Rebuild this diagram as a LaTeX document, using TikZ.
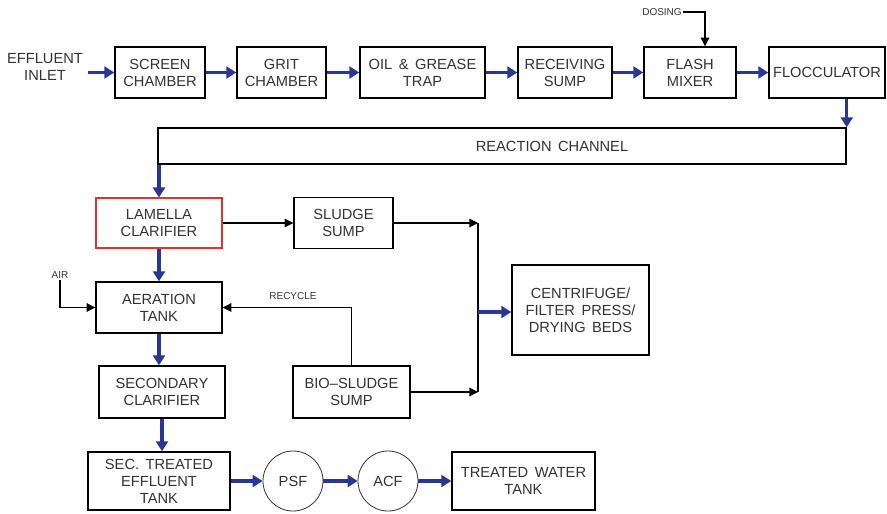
\documentclass[tikz,border=0pt]{standalone}
\usepackage{fontspec}
\setmainfont{Liberation Sans}
\usetikzlibrary{arrows.meta}
\definecolor{flowblue}{RGB}{42,54,148}
\definecolor{inkgray}{RGB}{50,50,50}
\definecolor{lamellared}{RGB}{232,48,48}

\begin{document}
\begin{tikzpicture}[x=0.75pt,y=-0.75pt]
	\tikzstyle{block}=[draw,rectangle,line width=1.1pt,align=center,text=inkgray,font=\fontsize{11}{12.8}\selectfont,minimum height=38.25pt,inner sep=1pt]
	\tikzstyle{filter}=[draw=inkgray,circle,line width=0.6pt,text=inkgray,font=\fontsize{11}{12.8}\selectfont,minimum size=45pt,inner sep=0pt]
	\tikzstyle{tag}=[text=inkgray,font=\fontsize{7.5}{8}\selectfont,inner sep=1pt]
	\tikzstyle{flow}=[draw=flowblue,line width=2.4pt,-{Triangle[length=7.5pt,width=9pt]}]
	\tikzstyle{feed}=[draw,line width=0.8pt,-{Triangle[length=6.5pt,width=6.5pt]}]

	\useasboundingbox (0,0) rectangle (887,513);

	% top row
	\node[text=inkgray,align=center,font=\fontsize{11}{12.8}\selectfont] (inlet) at (45,67) {EFFLUENT\\INLET};
	\node[block,minimum width=67.5pt] (screen) at (160,72.5) {SCREEN\\CHAMBER};
	\node[block,minimum width=66.75pt] (grit) at (281.5,72.5) {GRIT\\CHAMBER};
	\node[block,minimum width=93.75pt] (oil) at (422.5,72.5) {OIL \,\& \,GREASE\\TRAP};
	\node[block,minimum width=70.5pt] (recv) at (565,72.5) {RECEIVING\\SUMP};
	\node[block,minimum width=69pt] (flash) at (690,72.5) {FLASH\\MIXER};
	\node[block,minimum width=87pt] (flocc) at (827,72.5) {FLOCCULATOR};
	\node[tag] (dosing) at (662,12) {DOSING};

	\draw[flow] (inlet.east |- screen) -- (screen.west);
	\draw[flow] (screen) -- (grit);
	\draw[flow] (grit) -- (oil);
	\draw[flow] (oil) -- (recv);
	\draw[flow] (recv) -- (flash);
	\draw[flow] (flash) -- (flocc);
	\draw[feed] (dosing.east) -| ([xshift=11.25pt]flash.north);

	% channel
	\node[draw,rectangle,line width=1.1pt,minimum width=516pt,minimum height=27pt,
		label={[text=inkgray,font=\fontsize{11}{12.8}\selectfont,xshift=37.5pt]center:REACTION \,CHANNEL}] (chan) at (502,146) {};
	\draw[flow] (flocc.south -| chan.east) -- (chan.north east);

	% clarifiers and sludge
	\node[block,draw=lamellared,line width=0.8pt,minimum width=94.5pt,minimum height=37.5pt] (lamella) at (159,223) {LAMELLA\\CLARIFIER};
	\node[block,minimum width=74.25pt] (sludge) at (343.5,223) {SLUDGE\\SUMP};
	\node[block,minimum width=94.5pt] (aer) at (159,307.5) {AERATION\\TANK};
	\node[block,minimum width=94.5pt,minimum height=39pt] (sec) at (162,392) {SECONDARY\\CLARIFIER};
	\node[block,minimum width=87.75pt,minimum height=39pt] (bio) at (351.5,392) {BIO--SLUDGE\\SUMP};
	\node[block,minimum width=102.75pt,minimum height=67.5pt] (cent) at (580.5,310) {CENTRIFUGE/\\FILTER \,PRESS/\\DRYING \,BEDS};
	\node[tag] (air) at (60,275) {AIR};
	\node[tag] (recycle) at (293,296) {RECYCLE};
	\coordinate (jtop) at (478,223);
	\coordinate (jmid) at (478,312);
	\coordinate (jbot) at (478,392);

	\draw[flow] (lamella.north |- chan.south) -- (lamella.north);
	\draw[flow] (lamella) -- (aer);
	\draw[flow] (aer.south) -- (aer.south |- sec.north);
	\draw[feed] (lamella) -- (sludge);
	\draw[feed] (sludge.east) -- (jtop);
	\draw[feed] (bio.east) -- (jbot);
	\draw[line width=0.8pt] (jtop) -- (jbot);
	\draw[flow] (jmid) -- (jmid -| cent.west);
	\draw[feed] (air.south) |- (aer.west);
	\draw[feed] (bio.north) |- (aer.east);

	% bottom row
	\node[block,minimum width=106.5pt,minimum height=43.5pt] (sectank) at (159,481) {SEC. \,TREATED\\EFFLUENT\\TANK};
	\node[filter] (psf) at (293,481) {PSF};
	\node[filter] (acf) at (388,481) {ACF};
	\node[block,minimum width=107.25pt,minimum height=43.5pt] (treated) at (523.5,481) {TREATED \,WATER\\TANK};

	\draw[flow] (sec.south) -- (sec.south |- sectank.north);
	\draw[flow] (sectank) -- (psf);
	\draw[flow] (psf) -- (acf);
	\draw[flow] (acf) -- (treated);
\end{tikzpicture}
\end{document}
